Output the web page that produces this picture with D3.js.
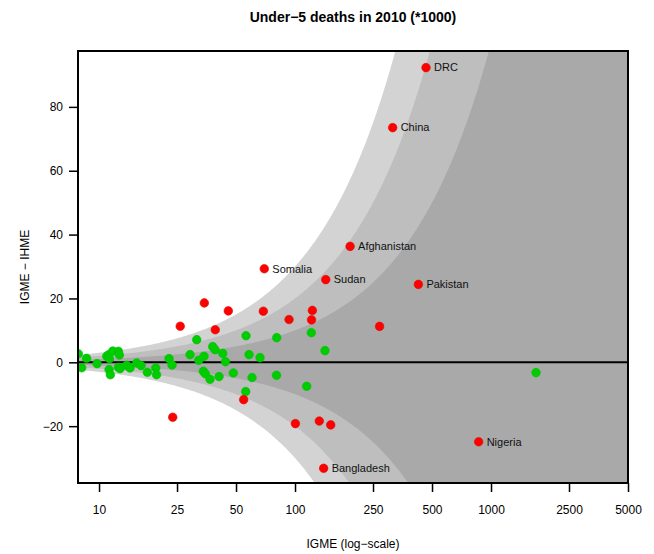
<!DOCTYPE html>
<html><head><meta charset="utf-8">
<script src="https://cdn.jsdelivr.net/npm/d3@7"></script>
<style>body{margin:0;background:#fff}svg{display:block}text{font-family:"Liberation Sans",Arial,Helvetica,sans-serif}</style>
</head><body><svg id="c" width="654" height="554"></svg>
<script>
// IGME estimate (x, thousands) and IGME - IHME difference (y)
const igme = [7.84,8.16,8.64,9.77,10.95,11.18,11.75,12.55,12.70,11.31,11.25,11.42,12.55,12.80,13.84,14.39,15.57,16.38,17.64,19.47,19.65,22.76,23.58,29.13,31.51,32.26,34.33,34.05,34.86,36.84,38.03,39.07,40.95,42.77,44.20,48.43,56.23,58.27,56.03,60.35,66.28,80.66,80.47,114.7,121.1,142.2,1697,
  466,315,191,69.7,143.5,426,865,140,34.45,45.67,68.9,93.2,122.6,121.4,25.96,39.17,270,23.77,54.7,100.4,133,152.1];
const diff = [2.66,-1.72,1.25,-0.41,1.88,2.34,3.53,3.44,2.28,1.1,-2.28,-3.9,-1.56,-1.97,-0.94,-1.78,-0.22,-1.03,-3.13,-1.78,-3.9,1.16,-0.84,2.41,7.09,0.63,1.88,-2.81,-3.59,-5.31,4.91,3.97,-4.47,2.81,0.16,-3.34,8.34,2.41,-9.16,-4.78,1.47,7.72,-4.06,-7.5,9.28,3.66,-3.22,
  92.3,73.5,36.3,29.3,25.9,24.4,-24.9,-33.2,18.6,16.1,16.0,13.4,16.25,13.3,11.3,10.2,11.25,-17.2,-11.7,-19.2,-18.4,-19.6];
const names = {47:"DRC",48:"China",49:"Afghanistan",50:"Somalia",51:"Sudan",52:"Pakistan",53:"Nigeria",54:"Bangladesh"};
const xTicks = [10,25,50,100,250,500,1000,2500,5000];
const yTicks = [-20,0,20,40,60,80];
const bandFractions = [0.3,0.2,0.1];
const bandColors = ["#d3d3d3","#bebebe","#a9a9a9"];
const threshold = 10;

const L=78,R=628,T=51,B=483;
const svg=d3.select("#c");
const x=d3.scaleLog().domain([7.81,5000]).range([L,R]);
const y=d3.scaleLinear().domain([-37.8,97.5]).range([B,T]);

svg.append("clipPath").attr("id","cp").append("rect").attr("x",L).attr("y",T).attr("width",R-L).attr("height",B-T);
const g=svg.append("g").attr("clip-path","url(#cp)");

const xs=d3.range(0,401).map(i=>Math.pow(10,Math.log10(7.81)+i*(Math.log10(5000)-Math.log10(7.81))/400));
bandFractions.forEach((f,i)=>{
  const pts=xs.map(v=>[x(v),y(f*v)]).concat(xs.slice().reverse().map(v=>[x(v),y(-f*v)]));
  g.append("path").attr("d",d3.line()(pts)+"Z").attr("fill",bandColors[i]);
});
g.append("line").attr("x1",L).attr("x2",R).attr("y1",y(0)).attr("y2",y(0)).attr("stroke","#000").attr("stroke-width",2);

igme.forEach((v,i)=>{
  const red=Math.abs(diff[i])>threshold;
  g.append("circle").attr("cx",x(v)).attr("cy",y(diff[i])).attr("r",4.3)
   .attr("fill",red?"#ff0000":"#00cd00").attr("stroke",red?"#d81000":"#00c000").attr("stroke-width",0.6);
});
Object.entries(names).forEach(([i,n])=>{
  svg.append("text").attr("x",x(igme[i])+8).attr("y",y(diff[i])).attr("dy","0.35em")
   .attr("font-size",11).attr("fill","#111").text(n);
});

svg.append("rect").attr("x",L).attr("y",T).attr("width",R-L).attr("height",B-T).attr("fill","none").attr("stroke","#000").attr("stroke-width",2);

// axes
const xa=svg.append("g").attr("transform",`translate(0,${B})`).call(d3.axisBottom(x).tickValues(xTicks).tickFormat(d3.format("d")).tickSize(9).tickPadding(13));
const ya=svg.append("g").attr("transform",`translate(${L},0)`).call(d3.axisLeft(y).tickValues(yTicks).tickFormat(d=>d<0?"\u2212"+Math.abs(d):d).tickSize(9).tickPadding(6));
[xa,ya].forEach(a=>{a.select(".domain").remove();a.selectAll("line").attr("stroke","#000").attr("stroke-width",1.5);a.selectAll("text").attr("font-size",12).attr("fill","#000").style("font-family","Liberation Sans, Arial, sans-serif");});

svg.append("text").attr("x",(L+R)/2).attr("y",22).attr("text-anchor","middle").attr("font-size",14).attr("font-weight","bold").text("Under\u22125 deaths in 2010 (*1000)");
svg.append("text").attr("x",(L+R)/2).attr("y",548).attr("text-anchor","middle").attr("font-size",12).text("IGME (log\u2212scale)");
svg.append("text").attr("transform",`translate(29,${(T+B)/2}) rotate(-90)`).attr("text-anchor","middle").attr("font-size",12).text("IGME \u2212 IHME");
</script></body></html>
